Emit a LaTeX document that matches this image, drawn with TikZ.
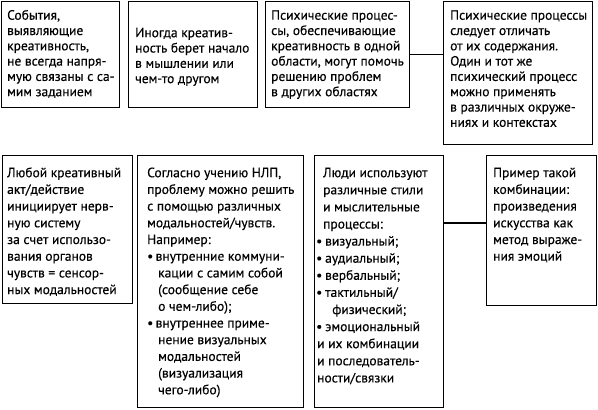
\documentclass[tikz,border=0pt]{standalone}
\usepackage{fontspec}
\setmainfont{PT Sans}[FakeBold=0.35]
\newcommand\fA{\fontsize{13.5}{15.3}\selectfont}
\newcommand\fB{\fontsize{13.5}{16.7}\selectfont}
\newcommand\fC{\fontsize{13.5}{17.1}\selectfont}
\newcommand\bsix{\makebox[8.5pt][l]{•}}
\newcommand\bseven{\makebox[9pt][l]{•}}
\newcommand\bind{\hspace*{11pt}}
\newcommand\fl{\rule{0pt}{10pt}}
\tikzset{
  box/.style={draw, line width=1.2pt, rectangle, inner sep=0pt, anchor=north west},
  txtA/.style={anchor=north west, inner sep=0pt, align=left, font=\fA},
  txtB/.style={anchor=north west, inner sep=0pt, align=left, font=\fB},
  txtC/.style={anchor=north west, inner sep=0pt, align=left, font=\fC},
  link/.style={line width=1.2pt}
}
\begin{document}
\begin{tikzpicture}[x=1pt,y=-1pt]
\useasboundingbox (0,0) rectangle (598,410);
% boxes
\node[box, minimum width=118pt, minimum height=106pt] (b1) at (1,1) {};
\node[box, minimum width=129pt, minimum height=106pt] (b2) at (128,1) {};
\node[box, minimum width=144pt, minimum height=106pt] (b3) at (265,1) {};
\node[box, minimum width=149pt, minimum height=143pt] (b4) at (443,1) {};
\node[box, minimum width=130pt, minimum height=148pt] (b5) at (2,155) {};
\node[box, minimum width=166pt, minimum height=252pt] (b6) at (137,155) {};
\node[box, minimum width=129pt, minimum height=252pt] (b7) at (314,155) {};
\node[box, minimum width=110pt, minimum height=150pt] (b8) at (486,155) {};
% texts (placed 10pt above the first baseline)
\node[txtA] (t1) at (7,9.5) {\fl События,\\выявляющие\\креативность,\\не всегда напря-\\мую связаны с са-\\мим заданием};
\node[txtA] (t2) at (135,27) {\fl Иногда креатив-\\ность берет начало\\в мышлении или\\чем-то другом};
\node[txtA] (t3) at (271,9.5) {\fl Психические процес-\\сы, обеспечивающие\\креативность в одной\\области, могут помочь\\решению проблем\\в других областях};
\node[txtA] (t4) at (450,9.5) {\fl Психические процессы\\следует отличать\\от их содержания.\\Один и тот же\\психический процесс\\можно применять\\в различных окруже-\\ниях и контекстах};
\node[txtB] (t5) at (7,167) {\fl Любой креативный\\акт/действие\\инициирует нерв-\\ную систему\\за счет использо-\\вания органов\\чувств = сенсор-\\ных модальностей};
\node[txtB] (t6) at (147,167) {\fl Согласно учению НЛП,\\проблему можно решить\\с помощью различных\\модальностей/чувств.\\Например:\\\bsix внутренние коммуни-\\\bind кации с самим собой\\\bind (сообщение себе\\\bind о чем-либо);\\\bsix внутреннее приме-\\\bind нение визуальных\\\bind модальностей\\\bind (визуализация\\\bind чего-либо)};
\node[txtC] (t7) at (316,167) {\fl\hspace*{7pt}Люди используют\\\hspace*{7pt}различные стили\\\hspace*{7pt}и мыслительные\\\hspace*{7pt}процессы:\\\bseven визуальный;\\\bseven аудиальный;\\\bseven вербальный;\\\bseven тактильный/\\\hspace*{16pt}физический;\\\bseven эмоциональный\\\hspace*{1pt}и их комбинации\\\hspace*{1pt}и последователь-\\\hspace*{1pt}ности/связки};
\node[txtB] (t8) at (493,167) {\fl Пример такой\\комбинации:\\произведения\\искусства как\\метод выраже-\\ния эмоций};
% connectors
\coordinate (c2) at (0,223);
\draw[link] (b3.east) -- (b3.east -| b4.west);
\draw[link] (b7.east |- c2) -- (b8.west |- c2);
\end{tikzpicture}
\end{document}
